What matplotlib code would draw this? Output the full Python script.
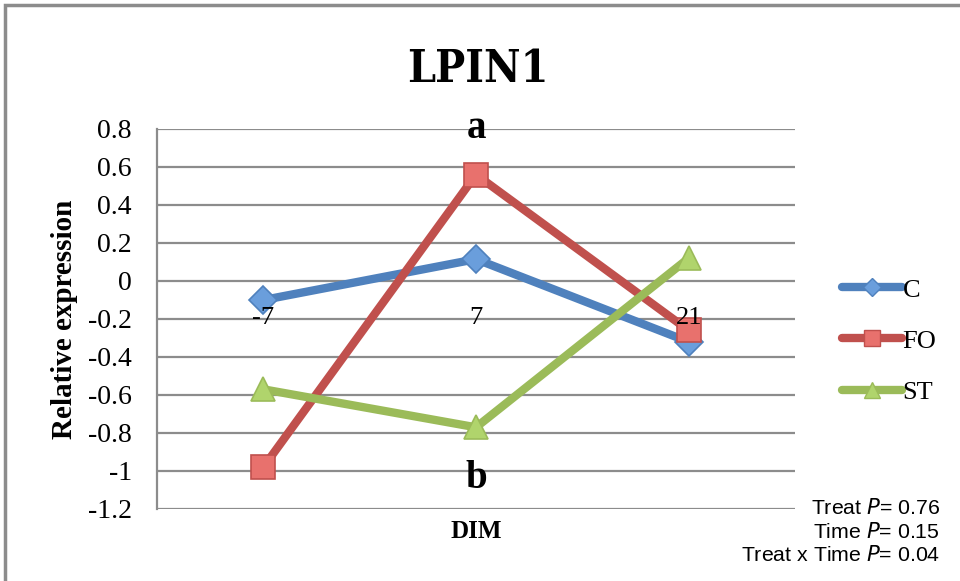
import matplotlib
matplotlib.use("Agg")
import matplotlib.pyplot as plt
from matplotlib.patches import Rectangle
from matplotlib.lines import Line2D

# Data
categories = ["-7", "7", "21"]
series_names = ["C", "FO", "ST"]
c_values = [-0.10, 0.115, -0.32]
fo_values = [-0.98, 0.56, -0.26]
st_values = [-0.57, -0.77, 0.12]
y_ticks = [0.8, 0.6, 0.4, 0.2, 0, -0.2, -0.4, -0.6, -0.8, -1, -1.2]
y_tick_labels = ["0.8", "0.6", "0.4", "0.2", "0", "-0.2", "-0.4", "-0.6", "-0.8", "-1", "-1.2"]
sig_letters = [("a", 0.80), ("b", -1.04)]
stats_lines = [("Treat ", "0.76"), ("Time ", "0.15"), ("Treat x Time ", "0.04")]

serif = "Liberation Serif"
sans = "Liberation Sans"

line_colors = ["#4F81BD", "#C0504D", "#9BBB59"]
face_colors = ["#6A9EDC", "#E8716D", "#B0D46C"]
markers = ["D", "s", "^"]
msizes = [14, 17, 17]
legend_msizes = [9, 12, 11]

fig = plt.figure(figsize=(9.6, 5.81), dpi=100)

# chart-area frame
fig.patches.append(Rectangle((5 / 960, -0.05), 1.2, 1 - 5 / 581 + 0.05,
                             transform=fig.transFigure, fill=False,
                             edgecolor="#8C8C8C", linewidth=2.5))

ax = fig.add_axes([157 / 960, 1 - 509 / 581, (795 - 157) / 960, (509 - 129) / 581])
ax.set_xlim(-0.5, 2.5)
ax.set_ylim(-1.2, 0.8)

for y in y_ticks:
    ax.axhline(y, color="#8C8C8C", linewidth=1.6, zorder=1)
for s in ["top", "right", "bottom"]:
    ax.spines[s].set_visible(False)
ax.spines["left"].set_color("#8C8C8C")
ax.spines["left"].set_linewidth(1.6)

ax.set_yticks(y_ticks)
ax.set_yticklabels(y_tick_labels, fontfamily=serif, fontsize=20)
ax.tick_params(axis="y", length=0, pad=18)
ax.set_xticks([])

x = list(range(len(categories)))
all_values = [c_values, fo_values, st_values]
for vals, lc, fc, mk, ms, name in zip(all_values, line_colors, face_colors, markers, msizes, series_names):
    ax.plot(x, vals, color=lc, linewidth=6, marker=mk, markersize=ms,
            markerfacecolor=fc, markeredgecolor=lc, markeredgewidth=1.2,
            solid_capstyle="round", solid_joinstyle="round", zorder=3, label=name)

# category labels sitting under the zero line
for xi, lab in zip(x, categories):
    ax.annotate(lab, xy=(xi, 0), xytext=(0, -19), textcoords="offset points",
                ha="center", va="top", fontfamily=serif, fontsize=19, zorder=4)

for letter, yv in sig_letters:
    ax.text(1, yv, letter, ha="center", va="center", fontfamily=serif,
            fontsize=28, fontweight="bold", zorder=4)

ax.set_ylabel("Relative expression", fontfamily=serif, fontsize=21, fontweight="bold")
ax.yaxis.set_label_coords((65 - 157) / 638, 0.5)
ax.set_xlabel("DIM", fontfamily=serif, fontsize=18, fontweight="bold")
ax.xaxis.set_label_coords(0.5, (509 - 531) / 380)
ax.xaxis.label.set_va("center")
ax.yaxis.label.set_va("center")

fig.text(478 / 960, 1 - 70 / 581, "LPIN1", ha="center", va="center",
         fontfamily="DejaVu Serif", fontstretch="condensed", fontsize=32, fontweight="bold")

# legend
handles = [Line2D([0], [0], color=lc, linewidth=6, marker=mk, markersize=ms,
                  markerfacecolor=fc, markeredgecolor=lc, solid_capstyle="round")
           for lc, fc, mk, ms in zip(line_colors, face_colors, markers, legend_msizes)]
fig.legend(handles, series_names, loc="center left",
           bbox_to_anchor=(818 / 960, 1 - 341 / 581), frameon=False,
           prop={"family": serif, "size": 19}, handlelength=2.3,
           handletextpad=0.0, labelspacing=1.05)

# statistics
for i, (label, pval) in enumerate(stats_lines):
    fig.text(940 / 960, 1 - (508 + i * 23.5) / 581,
             label + "$\\it{P}$= " + pval, ha="right", va="center",
             fontfamily=sans, fontsize=15.3)

fig.savefig("out.png", dpi=100)
